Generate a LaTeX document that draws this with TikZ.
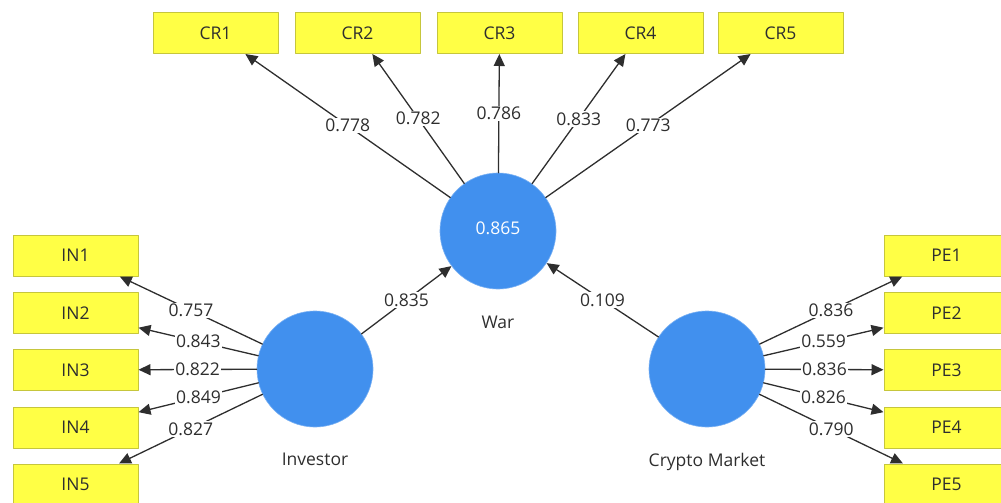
\documentclass[tikz,border=0pt]{standalone}
\usepackage{fontspec}
\setmainfont{Open Sans}
\usetikzlibrary{arrows.meta,positioning}
\definecolor{plsInk}{HTML}{2E2E2E}
\definecolor{plsBlue}{HTML}{4190EE}
\definecolor{plsYellow}{HTML}{FFFF45}
\definecolor{plsEdge}{HTML}{C6C63C}
\tikzset{
 pls/.style={line cap=round,line join=round,text=plsInk,
   font=\fontsize{17.5}{20}\selectfont},
 item/.style={rectangle,draw=plsEdge,fill=plsYellow,line width=1pt,
   minimum width=125pt,minimum height=41pt,inner sep=0pt},
 latent/.style={circle,draw=plsBlue!70,fill=plsBlue,line width=.6pt,inner sep=0pt,
   minimum size=116pt,text=white,
   every label/.style={inner sep=0pt,text=plsInk}},
 load/.style={draw=plsInk,line width=1.3pt,-{Triangle[length=12pt,width=11pt]}},
 coef/.style={midway,fill=white,inner sep=1.2pt}
}

\begin{document}
\begin{tikzpicture}[pls,x=1pt,y=-1pt]
 \useasboundingbox (0,0) rectangle (1001,503);
 \clip (0,0) rectangle (1001,503);
 % latent variables
 \node[latent,label={[label distance=23pt]below:War}] (war) at (498,231) {\raisebox{5pt}{0.865}};
 \node[latent,label={[label distance=22pt]below:Investor}] (inv) at (315,369) {};
 \node[latent,label={[label distance=22pt]below:Crypto Market}] (cm) at (707,369) {};
 % indicators of War
 \node[item] (cr1) at (215.5,33) {CR1};
 \node[item] (cr2) at (357.5,33) {CR2};
 \node[item] (cr3) at (499.5,33) {CR3};
 \node[item] (cr4) at (640.5,33) {CR4};
 \node[item] (cr5) at (780.5,33) {CR5};
 % indicators of Investor
 \node[item] (in1) at (75.5,255.5) {IN1};
 \node[item] (in2) at (75.5,313) {IN2};
 \node[item] (in3) at (75.5,370) {IN3};
 \node[item] (in4) at (75.5,427.5) {IN4};
 \node[item] (in5) at (75.5,484.5) {IN5};
 % indicators of Crypto Market
 \node[item] (pe1) at (946.5,255.5) {PE1};
 \node[item] (pe2) at (946.5,313) {PE2};
 \node[item] (pe3) at (946.5,370) {PE3};
 \node[item] (pe4) at (946.5,427.5) {PE4};
 \node[item] (pe5) at (946.5,484.5) {PE5};
 % outer loadings
 \draw[load] (war) -- (cr1) node[coef] {0.778};
 \draw[load] (war) -- (cr2) node[coef] {0.782};
 \draw[load] (war) -- (cr3) node[coef] {0.786};
 \draw[load] (war) -- (cr4) node[coef] {0.833};
 \draw[load] (war) -- (cr5) node[coef] {0.773};
 \draw[load] (inv) -- (in1) node[coef] {0.757};
 \draw[load] (inv) -- (in2) node[coef] {0.843};
 \draw[load] (inv) -- (in3) node[coef] {0.822};
 \draw[load] (inv) -- (in4) node[coef] {0.849};
 \draw[load] (inv) -- (in5) node[coef] {0.827};
 \draw[load] (cm) -- (pe1) node[coef] {0.836};
 \draw[load] (cm) -- (pe2) node[coef] {0.559};
 \draw[load] (cm) -- (pe3) node[coef] {0.836};
 \draw[load] (cm) -- (pe4) node[coef] {0.826};
 \draw[load] (cm) -- (pe5) node[coef] {0.790};
 % path coefficients
 \draw[load] (inv) -- (war) node[coef] {0.835};
 \draw[load] (cm) -- (war) node[coef] {0.109};
\end{tikzpicture}
\end{document}
